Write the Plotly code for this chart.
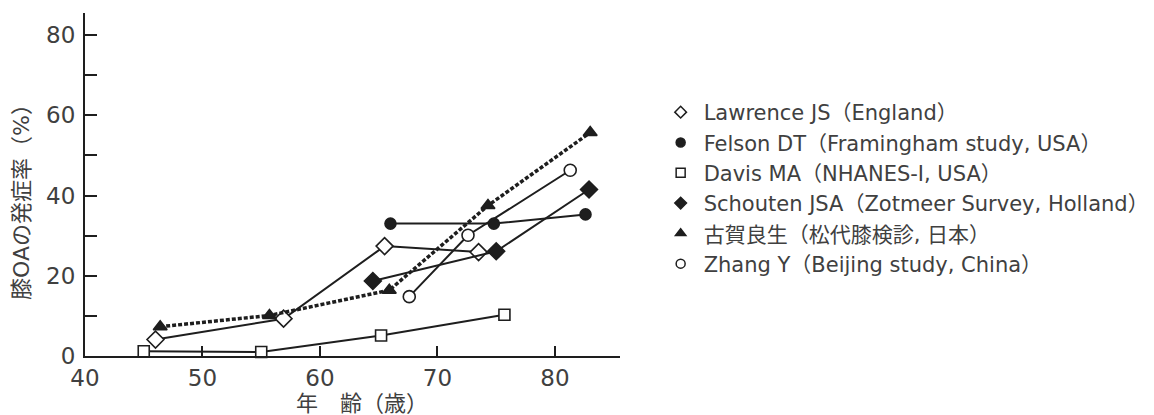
import plotly.graph_objects as go

# ---- data ----
lawrence_x = [46.0, 56.9, 65.5, 73.5]
lawrence_y = [4.1, 9.3, 27.4, 25.9]

felson_x = [66.0, 74.8, 82.6]
felson_y = [33.0, 33.0, 35.3]

davis_x = [45.0, 55.0, 65.2, 75.7]
davis_y = [1.2, 1.0, 5.1, 10.3]

schouten_x = [64.5, 75.0, 82.9]
schouten_y = [18.7, 26.1, 41.5]

koga_x = [46.4, 55.7, 65.9, 74.3, 83.0]
koga_y = [7.3, 10.1, 16.4, 37.5, 55.7]

zhang_x = [67.6, 72.6, 81.3]
zhang_y = [14.8, 30.1, 46.3]

names = [
    "Lawrence JS（England）",
    "Felson DT（Framingham study, USA）",
    "Davis MA（NHANES-Ⅰ, USA）",
    "Schouten JSA（Zotmeer Survey, Holland）",
    "古賀良生（松代膝検診, 日本）",
    "Zhang Y（Beijing study, China）",
]

x_ticks = [40, 50, 60, 70, 80]
y_ticks = [0, 10, 20, 30, 40, 50, 60, 70, 80]
y_ticklabels = ["0", "", "20", "", "40", "", "60", "", "80"]

y_title = "膝OAの発症率（%）"
x_title = "年　齢（歳）"

INK = "#1e1e1e"
TXT = "#404040"
FONT = "DejaVu Sans, Noto Sans CJK JP"

series = [
    (lawrence_x, lawrence_y, "diamond-open", 13, "solid", 2),
    (felson_x, felson_y, "circle", 11, "solid", 2),
    (davis_x, davis_y, "square-open", 11, "solid", 2),
    (schouten_x, schouten_y, "diamond", 13, "solid", 2),
    (koga_x, koga_y, "triangle-up", 12, "4px,2px", 3.5),
    (zhang_x, zhang_y, "circle-open", 12, "solid", 2),
]

fig = go.Figure()
for (xs, ys, sym, size, dash, lw), name in zip(series, names):
    is_open = sym.endswith("-open")
    fig.add_trace(go.Scatter(
        x=xs, y=ys, mode="lines+markers", showlegend=False, name=name,
        line=dict(color=INK, width=lw, dash=dash),
        marker=dict(symbol=sym.replace("-open", ""), size=size,
                    color="white" if is_open else INK,
                    line=dict(color=INK, width=1.6)),
        cliponaxis=False,
    ))
# legend entries (markers only, no drawn data)
for (xs, ys, sym, size, dash, lw), name in zip(series, names):
    is_open = sym.endswith("-open")
    fig.add_trace(go.Scatter(
        x=[None], y=[None], mode="markers", name=name,
        marker=dict(symbol=sym.replace("-open", ""), size=9,
                    color="white" if is_open else INK,
                    line=dict(color=INK, width=1.5)),
    ))

fig.update_layout(
    width=1146, height=407,
    margin=dict(l=77, r=20, t=5, b=59, autoexpand=False),
    paper_bgcolor="white", plot_bgcolor="white",
    font=dict(family=FONT, color=TXT),
    xaxis=dict(
        domain=[0, 0.5096], range=[40, 85.5], automargin=False,
        tickmode="array", tickvals=x_ticks, ticktext=[str(v) for v in x_ticks],
        ticks="inside", ticklen=10, tickwidth=1.5, tickcolor=INK,
        showline=True, linecolor=INK, linewidth=2,
        showgrid=False, zeroline=False,
        tickfont=dict(size=23, color=TXT, family=FONT),
    ),
    yaxis=dict(
        range=[0, 85.5], automargin=False,
        tickmode="array", tickvals=y_ticks, ticktext=y_ticklabels,
        ticks="inside", ticklen=12, tickwidth=1.5, tickcolor=INK,
        ticklabelstandoff=3,
        showline=True, linecolor=INK, linewidth=2,
        showgrid=False, zeroline=False,
        tickfont=dict(size=23, color=TXT, family=FONT),
    ),
    legend=dict(
        x=0.5459, y=0.7697, xanchor="left", yanchor="top",
        font=dict(size=21, color=TXT, family=FONT),
        bgcolor="rgba(0,0,0,0)", tracegroupgap=0, itemwidth=36,
    ),
    annotations=[
        dict(text=y_title, xref="paper", yref="paper", x=0, xshift=-63,
             y=0.4636, xanchor="center", yanchor="middle", textangle=-90,
             showarrow=False, font=dict(size=22, color=TXT, family=FONT)),
        dict(text=x_title, xref="paper", yref="paper", x=0.2643, y=-0.138,
             xanchor="center", yanchor="middle", showarrow=False,
             font=dict(size=22, color=TXT, family=FONT)),
    ],
)

fig.write_html("out.html")
